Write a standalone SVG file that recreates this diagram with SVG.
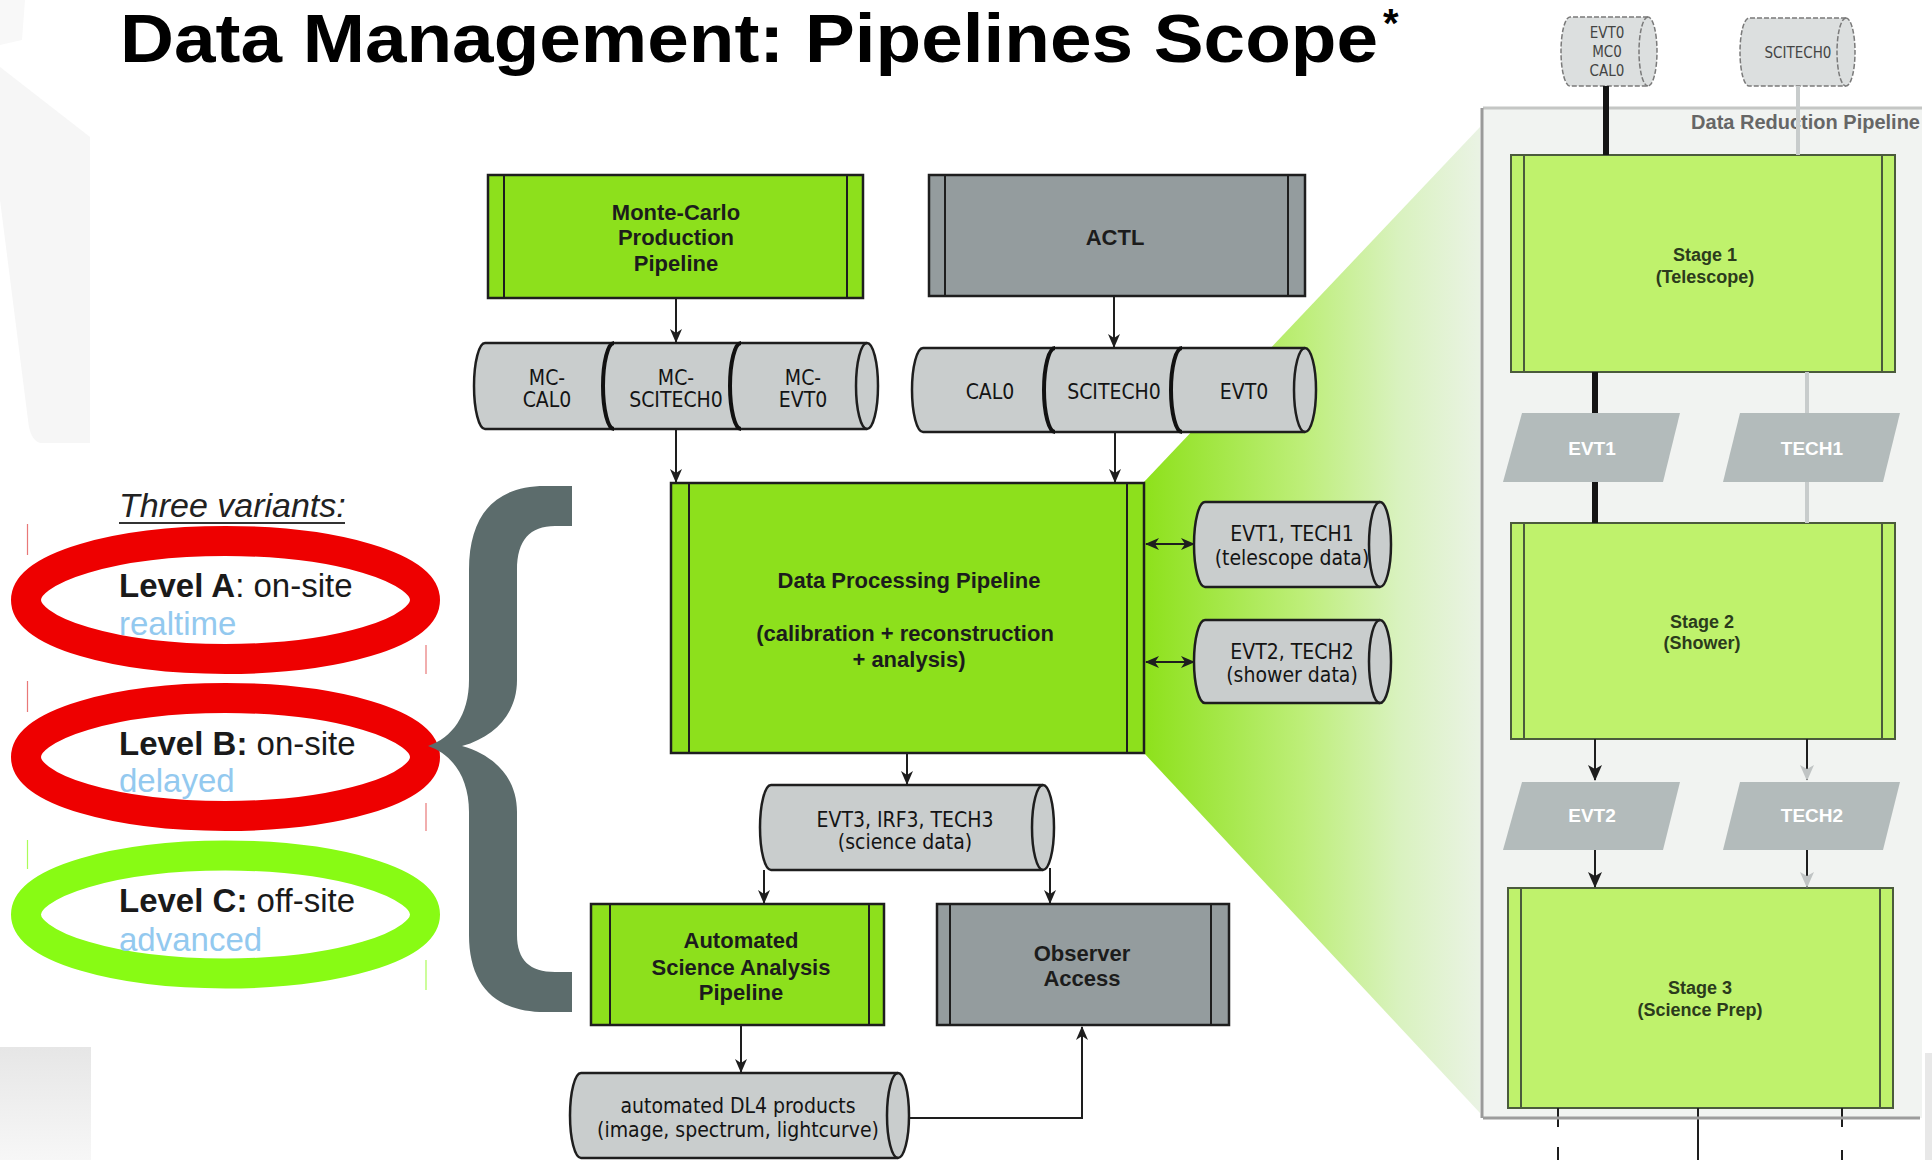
<svg xmlns="http://www.w3.org/2000/svg" width="1932" height="1160" viewBox="0 0 1932 1160">
  <defs>
    <style>
      .box-green { fill: #8de01c; stroke: #1e1e1e; stroke-width: 2.5; }
      .box-gray { fill: #949c9e; stroke: #1e1e1e; stroke-width: 2.5; }
      .inner { stroke: #1e1e1e; stroke-width: 2; fill: none; }
      .cyl { fill: #c9cdcd; stroke: #1e1e1e; stroke-width: 2.5; }
      .cap { fill: none; stroke: #1e1e1e; stroke-width: 2.5; }
      .divider { fill: none; stroke: #111; stroke-width: 4; }
      .lbl { font-family: "Liberation Sans", Arial, sans-serif; font-weight: bold; font-size: 22px; fill: #1c1c1c; text-anchor: middle; }
      .cyl-lbl { font-family: "DejaVu Sans Condensed", "DejaVu Sans", sans-serif; font-stretch: condensed; font-size: 21px; fill: #141414; text-anchor: middle; }
      .small-cyl { fill: #dcdfdf; stroke: #7a7a7a; stroke-width: 1.5; stroke-dasharray: 5 2; }
      .small-lbl { font-family: "DejaVu Sans Condensed", "DejaVu Sans", sans-serif; font-stretch: condensed; font-size: 15px; fill: #444; text-anchor: middle; }
      .stage { fill: #bff26c; stroke: #4b5b3c; stroke-width: 2; }
      .stage-inner { stroke: #4b5b3c; stroke-width: 2; fill: none; }
      .stage-lbl { font-family: "Liberation Sans", Arial, sans-serif; font-weight: bold; font-size: 18px; fill: #2b3b1c; text-anchor: middle; }
      .para { fill: #b3bbbb; }
      .para-lbl { font-family: "Liberation Sans", Arial, sans-serif; font-weight: bold; font-size: 19px; fill: #ffffff; text-anchor: middle; }
      .conn { stroke: #1e1e1e; stroke-width: 2; fill: none; }
      .conn-heavy { stroke: #151515; stroke-width: 6; fill: none; }
      .conn-light { stroke: #c8cccc; stroke-width: 4; fill: none; }
      .level { font-family: "Liberation Sans", Arial, sans-serif; font-size: 33px; fill: #1a1a1a; }
      .level-sub { font-family: "Liberation Sans", Arial, sans-serif; font-size: 33px; fill: #93c9ef; }
    </style>
    <linearGradient id="fan" gradientUnits="userSpaceOnUse" x1="1143" y1="0" x2="1480" y2="0">
      <stop offset="0" stop-color="#8de11a"/>
      <stop offset="0.47" stop-color="#bdee78"/>
      <stop offset="0.76" stop-color="#d9f2bf"/>
      <stop offset="1" stop-color="#eaf3e4"/>
    </linearGradient>
    <linearGradient id="corner" x1="0" y1="0" x2="0" y2="1">
      <stop offset="0" stop-color="#e6e6e6"/>
      <stop offset="1" stop-color="#f7f7f7"/>
    </linearGradient>
    <marker id="ah" viewBox="0 0 14 12" refX="13" refY="6" markerWidth="14" markerHeight="12" markerUnits="userSpaceOnUse" orient="auto-start-reverse">
      <path d="M0,0 L14,6 L0,12 L4,6 Z" fill="#1e1e1e"/>
    </marker>
    <marker id="ah-big" viewBox="0 0 16 14" refX="15" refY="7" markerWidth="16" markerHeight="14" markerUnits="userSpaceOnUse" orient="auto">
      <path d="M0,0 L16,7 L0,14 L4,7 Z" fill="#1e1e1e"/>
    </marker>
    <marker id="ah-light" viewBox="0 0 16 14" refX="15" refY="7" markerWidth="16" markerHeight="14" markerUnits="userSpaceOnUse" orient="auto">
      <path d="M0,0 L16,7 L0,14 L4,7 Z" fill="#c0c4c4"/>
    </marker>
  </defs>

  <rect width="1932" height="1160" fill="#ffffff"/>

  <!-- faint slide background shapes -->
  <path d="M0,67 L90,137 L90,443 L40,443 Q30,440 28,420 L0,200 Z" fill="#f6f6f6"/>
  <path d="M0,0 L25,0 L22,40 L0,45 Z" fill="#f8f8f8"/>
  <rect x="0" y="1047" width="91" height="113" fill="url(#corner)"/>
  <rect x="1925" y="1053" width="7" height="107" fill="#e8e8e8"/>

  <!-- zoom fan from the processing pipeline to the reduction detail -->
  <polygon points="1143,483 1480,127 1480,1113 1143,752" fill="url(#fan)"/>

  <!-- Data Reduction Pipeline panel -->
  <g id="reduction-panel">
    <rect x="1482" y="108" width="440" height="1010" fill="#f1f3f1"/>
    <line x1="1483" y1="108" x2="1922" y2="108" stroke="#c4c6c4" stroke-width="3"/>
    <line x1="1482" y1="108" x2="1482" y2="1118" stroke="#9a9a9a" stroke-width="3"/>
    <text x="1920" y="129" text-anchor="end" font-family="Liberation Sans, Arial, sans-serif" font-weight="bold" font-size="20" fill="#666">Data Reduction Pipeline</text>
  </g>

  <!-- title -->
  <text x="120" y="62" font-family="Liberation Sans, Arial, sans-serif" font-weight="bold" font-size="68" fill="#000" textLength="1258" lengthAdjust="spacingAndGlyphs">Data Management: Pipelines Scope</text>
  <text x="1383" y="37" font-family="Liberation Sans, Arial, sans-serif" font-weight="bold" font-size="40" fill="#000">*</text>

  <!-- variants legend -->
  <g id="variants">
    <text x="119" y="517" font-family="Liberation Sans, Arial, sans-serif" font-style="italic" font-size="34" fill="#222">Three variants:</text>
    <line x1="119" y1="523" x2="345" y2="523" stroke="#333" stroke-width="2"/>

    <g id="level-a">
      <ellipse cx="225.5" cy="600" rx="199.5" ry="59" fill="none" stroke="#ee0000" stroke-width="30"/>
      <text class="level" x="119" y="597"><tspan font-weight="bold">Level A</tspan>: on-site</text>
      <text class="level-sub" x="119" y="635">realtime</text>
    </g>
    <g id="level-b">
      <ellipse cx="225.5" cy="757" rx="199.5" ry="59" fill="none" stroke="#ee0000" stroke-width="30"/>
      <text class="level" x="119" y="755"><tspan font-weight="bold">Level B:</tspan> on-site</text>
      <text class="level-sub" x="119" y="792">delayed</text>
    </g>
    <g id="level-c">
      <ellipse cx="225.5" cy="914.5" rx="199.5" ry="59" fill="none" stroke="#88fb14" stroke-width="30"/>
      <text class="level" x="119" y="912"><tspan font-weight="bold">Level C:</tspan> off-site</text>
      <text class="level-sub" x="119" y="951">advanced</text>
    </g>

    <!-- text box edge fragments -->
    <g stroke-width="1.2" opacity="0.7">
      <line x1="27.5" y1="524" x2="27.5" y2="555" stroke="#e04040"/>
      <line x1="426" y1="645" x2="426" y2="674" stroke="#e04040"/>
      <line x1="27.5" y1="681" x2="27.5" y2="712" stroke="#e04040"/>
      <line x1="426" y1="803" x2="426" y2="831" stroke="#e04040"/>
      <line x1="27.5" y1="840" x2="27.5" y2="869" stroke="#88fb14"/>
      <line x1="426" y1="960" x2="426" y2="990" stroke="#88fb14"/>
    </g>

    <!-- brace -->
    <path d="M572,486 L545,486 C495,486 469,515 469,570 L469,680 C469,715 452,738 428,746 C452,754 469,777 469,812 L469,935 C469,985 495,1012 545,1012 L572,1012 L572,972 L555,972 C530,972 517,960 517,935 L517,812 C517,780 497,756 462,746 C497,736 517,712 517,680 L517,570 C517,540 530,526 555,526 L572,526 Z" fill="#5c6c6c"/>
  </g>

  <!-- nodes -->
  <g id="mc-production">
    <rect class="box-green" x="488" y="175" width="375" height="123"/>
    <line class="inner" x1="504" y1="175" x2="504" y2="298"/>
    <line class="inner" x1="847" y1="175" x2="847" y2="298"/>
    <text class="lbl" x="676" y="220">Monte-Carlo</text>
    <text class="lbl" x="676" y="245">Production</text>
    <text class="lbl" x="676" y="271">Pipeline</text>
  </g>

  <g id="actl">
    <rect class="box-gray" x="929" y="175" width="376" height="121"/>
    <line class="inner" x1="945" y1="175" x2="945" y2="296"/>
    <line class="inner" x1="1288" y1="175" x2="1288" y2="296"/>
    <text class="lbl" x="1115" y="245">ACTL</text>
  </g>

  <g id="mc-data">
    <path class="cyl" d="M867,343 L485,343 A11,43 0 0 0 485,429 L867,429 A11,43 0 0 0 867,343 Z"/>
    <path class="cap" d="M867,343 A11,43 0 0 0 867,429"/>
    <path class="divider" d="M614,343 A11,43 0 0 0 614,429"/>
    <path class="divider" d="M741,343 A11,43 0 0 0 741,429"/>
    <text class="cyl-lbl" x="547" y="385">MC-</text>
    <text class="cyl-lbl" x="547" y="407">CAL0</text>
    <text class="cyl-lbl" x="676" y="385">MC-</text>
    <text class="cyl-lbl" x="676" y="407">SCITECH0</text>
    <text class="cyl-lbl" x="803" y="385">MC-</text>
    <text class="cyl-lbl" x="803" y="407">EVT0</text>
  </g>

  <g id="raw-data">
    <path class="cyl" d="M1305,348 L923,348 A11,42 0 0 0 923,432 L1305,432 A11,42 0 0 0 1305,348 Z"/>
    <path class="cap" d="M1305,348 A11,42 0 0 0 1305,432"/>
    <path class="divider" d="M1055,348 A11,42 0 0 0 1055,432"/>
    <path class="divider" d="M1182,348 A11,42 0 0 0 1182,432"/>
    <text class="cyl-lbl" x="990" y="399">CAL0</text>
    <text class="cyl-lbl" x="1114" y="399">SCITECH0</text>
    <text class="cyl-lbl" x="1244" y="399">EVT0</text>
  </g>

  <g id="data-processing">
    <rect class="box-green" x="671" y="483" width="473" height="270"/>
    <line class="inner" x1="689" y1="483" x2="689" y2="753"/>
    <line class="inner" x1="1127" y1="483" x2="1127" y2="753"/>
    <text class="lbl" x="909" y="588">Data Processing Pipeline</text>
    <text class="lbl" x="905" y="641">(calibration + reconstruction</text>
    <text class="lbl" x="909" y="667">+ analysis)</text>
  </g>

  <g id="telescope-data">
    <path class="cyl" d="M1380,502 L1205,502 A11,42.5 0 0 0 1205,587 L1380,587 A11,42.5 0 0 0 1380,502 Z"/>
    <path class="cap" d="M1380,502 A11,42.5 0 0 0 1380,587"/>
    <text class="cyl-lbl" x="1292" y="541">EVT1, TECH1</text>
    <text class="cyl-lbl" x="1292" y="565">(telescope data)</text>
  </g>

  <g id="shower-data">
    <path class="cyl" d="M1380,620 L1205,620 A11,41.5 0 0 0 1205,703 L1380,703 A11,41.5 0 0 0 1380,620 Z"/>
    <path class="cap" d="M1380,620 A11,41.5 0 0 0 1380,703"/>
    <text class="cyl-lbl" x="1292" y="659">EVT2, TECH2</text>
    <text class="cyl-lbl" x="1292" y="682">(shower data)</text>
  </g>

  <g id="science-data">
    <path class="cyl" d="M1043,785 L771,785 A11,42.5 0 0 0 771,870 L1043,870 A11,42.5 0 0 0 1043,785 Z"/>
    <path class="cap" d="M1043,785 A11,42.5 0 0 0 1043,870"/>
    <text class="cyl-lbl" x="905" y="827">EVT3, IRF3, TECH3</text>
    <text class="cyl-lbl" x="905" y="849">(science data)</text>
  </g>

  <g id="science-analysis">
    <rect class="box-green" x="591" y="904" width="293" height="121"/>
    <line class="inner" x1="610" y1="904" x2="610" y2="1025"/>
    <line class="inner" x1="869" y1="904" x2="869" y2="1025"/>
    <text class="lbl" x="741" y="948">Automated</text>
    <text class="lbl" x="741" y="975">Science Analysis</text>
    <text class="lbl" x="741" y="1000">Pipeline</text>
  </g>

  <g id="observer-access">
    <rect class="box-gray" x="937" y="904" width="292" height="121"/>
    <line class="inner" x1="950" y1="904" x2="950" y2="1025"/>
    <line class="inner" x1="1211" y1="904" x2="1211" y2="1025"/>
    <text class="lbl" x="1082" y="961">Observer</text>
    <text class="lbl" x="1082" y="986">Access</text>
  </g>

  <g id="dl4-products">
    <path class="cyl" d="M898,1073 L581,1073 A11,42.5 0 0 0 581,1158 L898,1158 A11,42.5 0 0 0 898,1073 Z"/>
    <path class="cap" d="M898,1073 A11,42.5 0 0 0 898,1158"/>
    <text class="cyl-lbl" x="738" y="1113">automated DL4 products</text>
    <text class="cyl-lbl" x="738" y="1137">(image, spectrum, lightcurve)</text>
  </g>

  <!-- reduction pipeline nodes -->
  <g id="input-evt0">
    <path class="small-cyl" d="M1648,17 L1570,17 A9,34.5 0 0 0 1570,86 L1648,86 A9,34.5 0 0 0 1648,17 Z"/>
    <path class="small-cyl" fill="none" d="M1648,17 A9,34.5 0 0 0 1648,86"/>
    <text class="small-lbl" x="1607" y="38">EVT0</text>
    <text class="small-lbl" x="1607" y="57">MC0</text>
    <text class="small-lbl" x="1607" y="76">CAL0</text>
  </g>

  <g id="input-scitech0">
    <path class="small-cyl" d="M1846,18 L1749,18 A9,34 0 0 0 1749,86 L1846,86 A9,34 0 0 0 1846,18 Z"/>
    <path class="small-cyl" fill="none" d="M1846,18 A9,34 0 0 0 1846,86"/>
    <text class="small-lbl" x="1798" y="58">SCITECH0</text>
  </g>

  <g id="stage-1">
    <rect class="stage" x="1511" y="155" width="384" height="217"/>
    <line class="stage-inner" x1="1524" y1="155" x2="1524" y2="372"/>
    <line class="stage-inner" x1="1882" y1="155" x2="1882" y2="372"/>
    <text class="stage-lbl" x="1705" y="261">Stage 1</text>
    <text class="stage-lbl" x="1705" y="283">(Telescope)</text>
  </g>

  <g id="evt1">
    <polygon class="para" points="1522,413 1680,413 1663,482 1503,482"/>
    <text class="para-lbl" x="1592" y="455">EVT1</text>
  </g>
  <g id="tech1">
    <polygon class="para" points="1740,413 1900,413 1883,482 1723,482"/>
    <text class="para-lbl" x="1812" y="455">TECH1</text>
  </g>

  <g id="stage-2">
    <rect class="stage" x="1511" y="523" width="384" height="216"/>
    <line class="stage-inner" x1="1524" y1="523" x2="1524" y2="739"/>
    <line class="stage-inner" x1="1882" y1="523" x2="1882" y2="739"/>
    <text class="stage-lbl" x="1702" y="628">Stage 2</text>
    <text class="stage-lbl" x="1702" y="649">(Shower)</text>
  </g>

  <g id="evt2">
    <polygon class="para" points="1522,782 1680,782 1663,850 1503,850"/>
    <text class="para-lbl" x="1592" y="822">EVT2</text>
  </g>
  <g id="tech2">
    <polygon class="para" points="1740,782 1900,782 1883,850 1723,850"/>
    <text class="para-lbl" x="1812" y="822">TECH2</text>
  </g>

  <g id="stage-3">
    <rect class="stage" x="1508" y="888" width="385" height="220"/>
    <line class="stage-inner" x1="1521" y1="888" x2="1521" y2="1108"/>
    <line class="stage-inner" x1="1880" y1="888" x2="1880" y2="1108"/>
    <text class="stage-lbl" x="1700" y="994">Stage 3</text>
    <text class="stage-lbl" x="1700" y="1016">(Science Prep)</text>
  </g>

  <!-- connectors -->
  <g id="connectors">
    <path class="conn" d="M676,298 L676,342" marker-end="url(#ah)"/>
    <path class="conn" d="M1114,296 L1114,347" marker-end="url(#ah)"/>
    <path class="conn" d="M676,429 L676,482" marker-end="url(#ah)"/>
    <path class="conn" d="M1115,432 L1115,482" marker-end="url(#ah)"/>
    <path class="conn" d="M1146,544 L1194,544" marker-start="url(#ah)" marker-end="url(#ah)"/>
    <path class="conn" d="M1146,662 L1194,662" marker-start="url(#ah)" marker-end="url(#ah)"/>
    <path class="conn" d="M907,753 L907,784" marker-end="url(#ah)"/>
    <path class="conn" d="M764,870 L764,903" marker-end="url(#ah)"/>
    <path class="conn" d="M1050,868 L1050,903" marker-end="url(#ah)"/>
    <path class="conn" d="M741,1025 L741,1072" marker-end="url(#ah)"/>
    <path class="conn" stroke-width="1.6" d="M909,1118 L1082,1118 L1082,1027" marker-end="url(#ah)"/>

    <path class="conn-heavy" d="M1606,86 L1606,155"/>
    <path class="conn-light" d="M1798,86 L1798,155"/>
    <path class="conn-heavy" d="M1595,372 L1595,413"/>
    <path class="conn-light" d="M1807,372 L1807,413"/>
    <path class="conn-heavy" d="M1595,482 L1595,523"/>
    <path class="conn-light" d="M1807,482 L1807,523"/>
    <path class="conn" stroke-width="3" d="M1595,739 L1595,780" marker-end="url(#ah-big)"/>
    <path class="conn" stroke="#c0c4c4" d="M1807,739 L1807,780" marker-end="url(#ah-light)"/>
    <path class="conn" stroke-width="3" d="M1595,850 L1595,887" marker-end="url(#ah-big)"/>
    <path class="conn" stroke="#c0c4c4" d="M1807,850 L1807,887" marker-end="url(#ah-light)"/>

    <path class="conn" stroke="#555" stroke-width="4" d="M1558,1108 L1558,1127"/>
    <path class="conn" stroke="#222" stroke-width="4" d="M1698,1108 L1698,1160"/>
    <path class="conn" stroke="#cfd2d2" stroke-width="2" d="M1842,1108 L1842,1127"/>
    <path class="conn" stroke="#111" stroke-width="6" d="M1558,1147 L1558,1160"/>
    <path class="conn" stroke="#cfd2d2" stroke-width="4" d="M1842,1150 L1842,1160"/>
    <line x1="1483" y1="1118" x2="1920" y2="1118" stroke="#9c9c9c" stroke-width="3"/>
  </g>
</svg>
